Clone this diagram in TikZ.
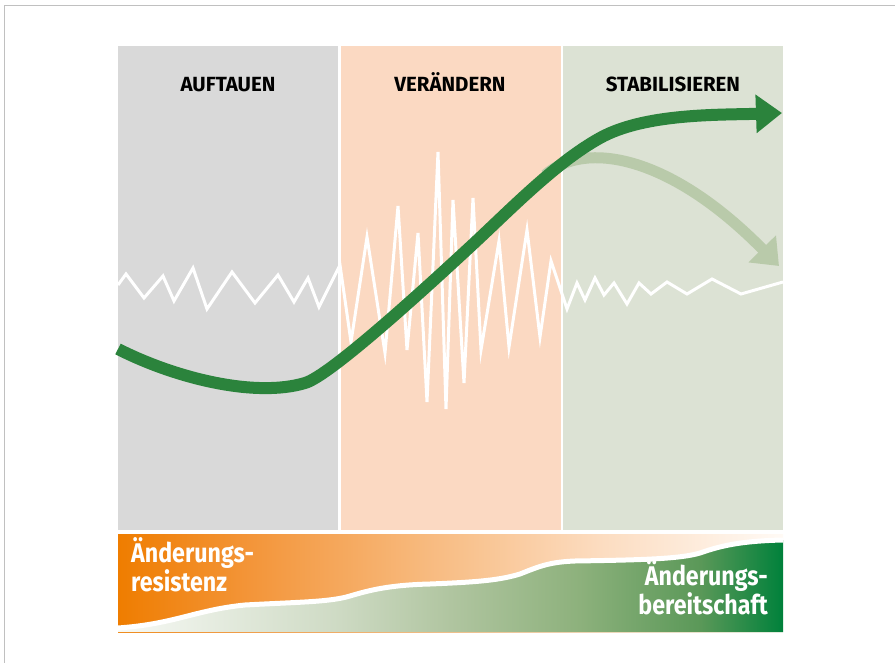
\documentclass[tikz,border=0pt]{standalone}
\usepackage{fontspec}
\setmainfont{Fira Sans}
\newfontfamily\tagfont{Fira Sans}[FakeStretch=0.86]
\usetikzlibrary{arrows.meta}

\definecolor{framegray}{HTML}{C0C0C0}
\definecolor{phasegray}{HTML}{D9D9D9}
\definecolor{phasepeach}{HTML}{FBD9C2}
\definecolor{phasegreen}{HTML}{DCE2D4}
\definecolor{curvegreen}{HTML}{2B833C}
\definecolor{fadegreen}{HTML}{B9CAAA}
\definecolor{orangeA}{HTML}{EF7D00}
\definecolor{orangeB}{HTML}{F39539}
\definecolor{orangeC}{HTML}{F8BF88}
\definecolor{orangeD}{HTML}{FCDCC0}
\definecolor{orangeE}{HTML}{FFFAF5}
\definecolor{greenA}{HTML}{F7F9F5}
\definecolor{greenB}{HTML}{CFDBC5}
\definecolor{greenC}{HTML}{B0C5A0}
\definecolor{greenD}{HTML}{8DB17C}
\definecolor{greenE}{HTML}{5A9858}
\definecolor{greenF}{HTML}{00813B}

\pgfdeclarehorizontalshading{resistshade}{100bp}{color(0bp)=(orangeA); color(25bp)=(orangeA);
	color(34.9bp)=(orangeB); color(50bp)=(orangeC); color(61.2bp)=(orangeD);
	color(75bp)=(orangeE); color(100bp)=(orangeE)}
\pgfdeclarehorizontalshading{readyshade}{100bp}{color(0bp)=(greenA); color(25bp)=(greenA);
	color(41.2bp)=(greenB); color(50bp)=(greenC); color(59.7bp)=(greenD);
	color(68.8bp)=(greenE); color(75bp)=(greenF); color(100bp)=(greenF)}

\begin{document}
\begin{tikzpicture}[
		x=1pt, y=-1pt,
		phase/.style={font=\fontsize{20.5}{24}\selectfont\bfseries, inner sep=0pt, anchor=base},
		tag/.style={font=\tagfont\fontsize{27}{25}\selectfont\bfseries, text=white, inner sep=0pt},
		noise/.style={white, line width=3pt, line join=miter},
		curve/.style={curvegreen, line width=12pt, -{Triangle[length=26pt, width=37pt]}},
		fade/.style={fadegreen, line width=11pt, -{Triangle[length=24pt, width=37pt]}}
		]
		\useasboundingbox (0,0) rectangle (895,663);
		
		% ---- Frame ----
		\draw[framegray, line width=1pt] (4,663) -- (4,5.5) -- (895,5.5);
		
		% ---- Phase panels ----
		\fill[phasegray]  (118,46) rectangle (338,530);
		\fill[phasepeach] (341,46) rectangle (561,530);
		\fill[phasegreen] (563,46) rectangle (783,530);
		
		\node[phase] (auftauen)      at (228,92) {AUFTAUEN};
		\node[phase] (veraendern)    at (450,92) {VERÄNDERN};
		\node[phase] (stabilisieren) at (673,92) {STABILISIEREN};
		
		% ---- Noise line ----
		\draw[noise] (118,285) -- (126,274) -- (144,298) -- (163,276) -- (174,301)
			-- (193,268) -- (207,309) -- (232,272) -- (255,303) -- (278,275)
			-- (294,302) -- (308,278) -- (319,307) -- (340,265) -- (351,342)
			-- (367,237) -- (385,353) -- (398,206) -- (407,350) -- (418,233)
			-- (427,402) -- (438,152) -- (446,409) -- (453,200) -- (464,383)
			-- (473,198) -- (481,350) -- (499,241) -- (509,347) -- (527,230)
			-- (540,337) -- (551,261) -- (567,309) -- (577,283) -- (585,300)
			-- (595,278) -- (604,295) -- (614,283) -- (627,304) -- (639,283)
			-- (651,294) -- (667,282) -- (687,294) -- (712,279) -- (741,294)
			-- (783,282);
		
		% ---- Arrows ----
		\coordinate (fadestart) at (545,175);
		\coordinate (fadeend)   at (779,266);
		\coordinate (curvestart) at (118,349);
		\coordinate (curveend)   at (782,113);
		
		% fading path (behind)
		\draw[fade] (fadestart) .. controls (585,140) and (670,155) .. (fadeend);
		
		% S-curve
		\draw[curve] (curvestart) .. controls (175,378) and (255,398) .. (305,383)
			.. controls (330,376) and (430,284) .. (470,247)
			.. controls (510,210) and (555,163) .. (600,138)
			.. controls (645,113) and (720,115) .. (curveend);
		
		% ---- Bottom bar ----
		\shade[shading=resistshade] (118,534) rectangle (783,632);
		\shade[shading=readyshade] (118,632) -- (118,628)
			.. controls (175,624) and (195,610) .. (245,605)
			.. controls (300,602) and (330,602) .. (350,596)
			.. controls (370,590) and (390,585) .. (430,584)
			.. controls (480,582) and (500,580) .. (520,574)
			.. controls (540,566) and (550,562) .. (575,561)
			.. controls (640,560) and (680,559) .. (700,553)
			.. controls (720,546) and (740,541) .. (783,540)
			-- (783,632) -- cycle;
		\draw[white, line width=5pt] (118,628)
			.. controls (175,624) and (195,610) .. (245,605)
			.. controls (300,602) and (330,602) .. (350,596)
			.. controls (370,590) and (390,585) .. (430,584)
			.. controls (480,582) and (500,580) .. (520,574)
			.. controls (540,566) and (550,562) .. (575,561)
			.. controls (640,560) and (680,559) .. (700,553)
			.. controls (720,546) and (740,541) .. (783,540);
		
		\node[tag, anchor=base west, align=left] (resistenz) at (131,591)
			{Änderungs-\\resistenz};
		\node[tag, anchor=base east, align=right] (bereitschaft) at (768,614)
			{Änderungs-\\bereitschaft};
	\end{tikzpicture}
\end{document}
